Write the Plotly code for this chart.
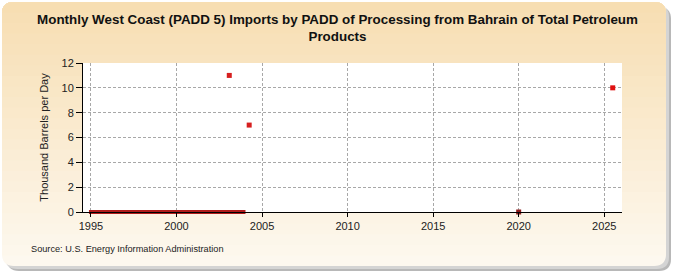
import plotly.graph_objects as go
import pandas as pd

# Monthly zero observations, Jan 1995 - Dec 2003
zero_dates = pd.date_range("1995-01-01", "2003-12-01", freq="MS").strftime("%Y-%m-%d").tolist()
zero_values = [0] * len(zero_dates)

point_dates = ["2003-02-01", "2004-04-01", "2020-01-01", "2025-07-01"]
point_values = [11, 7, 0, 10]
point_colors = ["#d61f1f", "#d61f1f", "#8b1a1a", "#e01010"]

x_ticks = ["1995-01-01", "2000-01-01", "2005-01-01", "2010-01-01", "2015-01-01", "2020-01-01", "2025-01-01"]
x_tick_labels = ["1995", "2000", "2005", "2010", "2015", "2020", "2025"]
y_ticks = [0, 2, 4, 6, 8, 10, 12]

title = "Monthly West Coast (PADD 5) Imports by PADD of Processing from Bahrain of Total Petroleum<br>Products"
y_title = "Thousand Barrels per Day"
source = "Source: U.S. Energy Information Administration"

fig = go.Figure()
fig.add_trace(go.Scatter(x=zero_dates, y=zero_values, mode="markers",
                         marker=dict(color="#b01c1c", size=4, symbol="square", line=dict(width=0)),
                         cliponaxis=False, hoverinfo="skip"))
fig.add_trace(go.Scatter(x=point_dates, y=point_values, mode="markers",
                         marker=dict(color=point_colors, size=5, symbol="square", line=dict(width=0)),
                         cliponaxis=False))

W, H = 675, 275
L, R, T, B = 83, 53, 63, 63
PW, PH = W - L - R, H - T - B


def fx(v):
    return (v - L) / PW


def fy(v):
    return 1 - (v - T) / PH


def rrect(x0, y0, x1, y1, r, round_bottom=True):
    p = f"M {fx(x0+r)},{fy(y0)} L {fx(x1-r)},{fy(y0)} Q {fx(x1)},{fy(y0)} {fx(x1)},{fy(y0+r)} "
    if round_bottom:
        p += (f"L {fx(x1)},{fy(y1-r)} Q {fx(x1)},{fy(y1)} {fx(x1-r)},{fy(y1)} L {fx(x0+r)},{fy(y1)} "
              f"Q {fx(x0)},{fy(y1)} {fx(x0)},{fy(y1-r)} ")
    else:
        p += f"L {fx(x1)},{fy(y1)} L {fx(x0)},{fy(y1)} "
    p += f"L {fx(x0)},{fy(y0+r)} Q {fx(x0)},{fy(y0)} {fx(x0+r)},{fy(y0)} Z"
    return p


def mix(c1, c2, t):
    a = [int(c1[i:i+2], 16) for i in (1, 3, 5)]
    b = [int(c2[i:i+2], 16) for i in (1, 3, 5)]
    return "#" + "".join(f"{round(a[i] + (b[i]-a[i])*t):02x}" for i in range(3))


shapes = [
    dict(type="path", xref="paper", yref="paper", path=rrect(7, 7, 671, 271, 12),
         fillcolor="#b8b8b8", line=dict(width=0), layer="below"),
    dict(type="path", xref="paper", yref="paper", path=rrect(5, 5, 669, 269, 12),
         fillcolor="#d4d4d4", line=dict(width=0), layer="below"),
    dict(type="path", xref="paper", yref="paper", path=rrect(2, 2, 666, 266, 12),
         fillcolor="#fdf8ef", line=dict(width=0), layer="below"),
]
top_c, bot_c = "#f7deb2", "#fdf8ef"
N = 24
for k in range(N):
    y1 = 266 - (264 * (k + 1) / (N + 1))
    frac = (k + 1) / N
    shapes.append(dict(type="path", xref="paper", yref="paper",
                       path=rrect(2, 2, 666, y1, 12, round_bottom=False),
                       fillcolor=mix(bot_c, top_c, frac),
                       line=dict(width=0), layer="below"))
shapes.append(dict(type="rect", xref="paper", yref="paper", x0=0, x1=1, y0=0, y1=1,
                   fillcolor="white", line=dict(width=0), layer="below"))

fig.update_layout(
    width=W, height=H,
    margin=dict(l=L, r=R, t=T, b=B),
    paper_bgcolor="white",
    plot_bgcolor="white",
    showlegend=False,
    shapes=shapes,
    font=dict(family="Liberation Sans, Arial, sans-serif", color="#222222", size=11),
    title=dict(text="<b>" + title + "</b>", x=0.5, xanchor="center", y=1 - 24 / H, yanchor="top",
               font=dict(size=13.4, color="#111111")),
    xaxis=dict(type="date", range=["1994-07-15", "2026-01-15"], tickvals=x_ticks, ticktext=x_tick_labels,
               showgrid=True, gridcolor="#a8a8a8", griddash="3px,2px", gridwidth=1,
               showline=True, linecolor="black", linewidth=1, ticks="outside", ticklen=4,
               tickcolor="black", zeroline=False, tickfont=dict(size=11)),
    yaxis=dict(range=[0, 12], tickvals=y_ticks, showgrid=True, gridcolor="#a8a8a8", griddash="3px,2px",
               gridwidth=1, showline=True, linecolor="black", linewidth=1, ticks="outside", ticklen=6,
               tickcolor="black", zeroline=False, tickfont=dict(size=11),
               title=dict(text=y_title, font=dict(size=11), standoff=10)),
    annotations=[dict(text=source, xref="paper", yref="paper", x=fx(29), y=fy(249),
                      xanchor="left", yanchor="middle", showarrow=False, font=dict(size=9.2, color="#222222"))],
)

fig.write_html("out.html")
